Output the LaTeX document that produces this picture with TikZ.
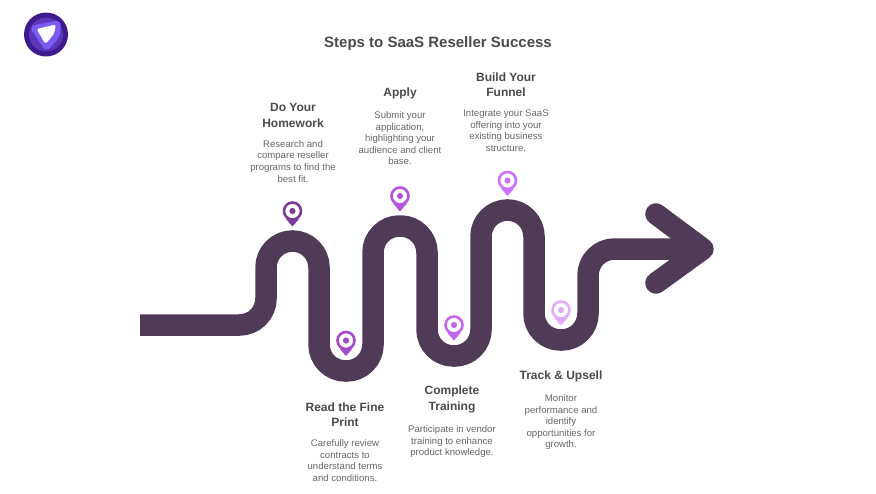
\documentclass[tikz,border=0pt]{standalone}
\usepackage{fontspec}
\setmainfont{Liberation Sans}
\usetikzlibrary{positioning}
\definecolor{roadcol}{HTML}{4F3B55}
\definecolor{lanecol}{HTML}{4A4250}
\definecolor{headcol}{HTML}{4A4A4A}
\definecolor{bodycol}{HTML}{666666}
\definecolor{logoA}{HTML}{3D1A8E}
\definecolor{logoB}{HTML}{5B36BC}
\definecolor{logoC}{HTML}{7B5CF0}
\begin{document}
\begin{tikzpicture}[x=1pt,y=-1pt,node distance=12.5pt]
\tikzstyle{road} = [line width=21.5pt, draw=roadcol]
\tikzstyle{lane} = [line width=0.4pt, draw=lanecol, dash pattern=on 4pt off 4pt]
\tikzstyle{Head} = [inner sep=0pt, align=center, text=headcol, font=\fontsize{12}{15.4}\selectfont\bfseries]
\tikzstyle{Body} = [inner sep=0pt, align=center, text=bodycol, font=\fontsize{9.6}{11.6}\selectfont]
\tikzstyle{ring} = [circle, draw, line width=2.6pt, minimum size=17pt, inner sep=0pt]
\tikzstyle{dot} = [circle, minimum size=6.2pt, inner sep=0pt]
\useasboundingbox (0,0) rectangle (876,493);
% logo
\node[circle, fill=logoA, minimum size=44pt, inner sep=0pt] (logo) at (46,34.5){};
\node[circle, fill=logoB, minimum size=34pt, inner sep=0pt] at (46,34.5){};
\fill[logoC, rounded corners=6pt] (29,26) -- (61,20) -- (60,37) -- (46,52) -- cycle;
\fill[white, rounded corners=2.5pt] (36.5,29) -- (56,24.5) -- (54,34) -- (45.5,44) -- cycle;
% title
\node[inner sep=0pt, text=headcol, font=\fontsize{15}{18}\selectfont\bfseries] (title) at (438,43.5){Steps to SaaS Reseller Success};
% road
\draw[road, rounded corners=26.5pt] (140,325) -| (266,241) -| (319,371) -| (373,226) -| (427,356) -| (481,210) -| (534,340) -| (588,249) -- (700,249);
\draw[road, line cap=round, line join=round] (656,214) -- (703,249) -- (656,283);
\draw[lane, rounded corners=26.5pt] (140,325) -| (266,241) -| (319,371) -| (373,226) -| (427,356) -| (481,210) -| (534,340) -| (588,249) -- (670,249);
% pins
\foreach \name/\px/\py/\pc in {a/292.5/211/7D3C98, b/346/340.5/A64BC8, c/400/196/B455DD, d/454/325/C466EE, e/507.5/180.5/D070FF, f/561/310/E3ABFF}
{
\definecolor{pincol}{HTML}{\pc}
\fill[pincol] (\px-6.5,\py+8) -- (\px,\py+15.5) -- (\px+6.5,\py+8) -- cycle;
\node[ring, draw=pincol, fill=white] (pin\name) at (\px,\py){};
\node[dot, fill=pincol] at (pin\name){};
}
% labels
\node[Head] (h1) at (293,115.5){Do Your\\Homework};
\node[Body, below=of h1] (t1){Research and\\compare reseller\\programs to find the\\best fit.};
\node[Head] (h2) at (400,93){Apply};
\node[Body, below=of h2] (t2){Submit your\\application,\\highlighting your\\audience and client\\base.};
\node[Head] (h3) at (506,85){Build Your\\Funnel};
\node[Body, below=of h3] (t3){Integrate your SaaS\\offering into your\\existing business\\structure.};
\node[Head] (h4) at (345,414.5){Read the Fine\\Print};
\node[Body, below=of h4] (t4){Carefully review\\contracts to\\understand terms\\and conditions.};
\node[Head] (h5) at (452,399.5){Complete\\Training};
\node[Body, below=of h5] (t5){Participate in vendor\\training to enhance\\product knowledge.};
\node[Head] (h6) at (561,376){Track \& Upsell};
\node[Body, below=of h6] (t6){Monitor\\performance and\\identify\\opportunities for\\growth.};
\end{tikzpicture}
\end{document}
